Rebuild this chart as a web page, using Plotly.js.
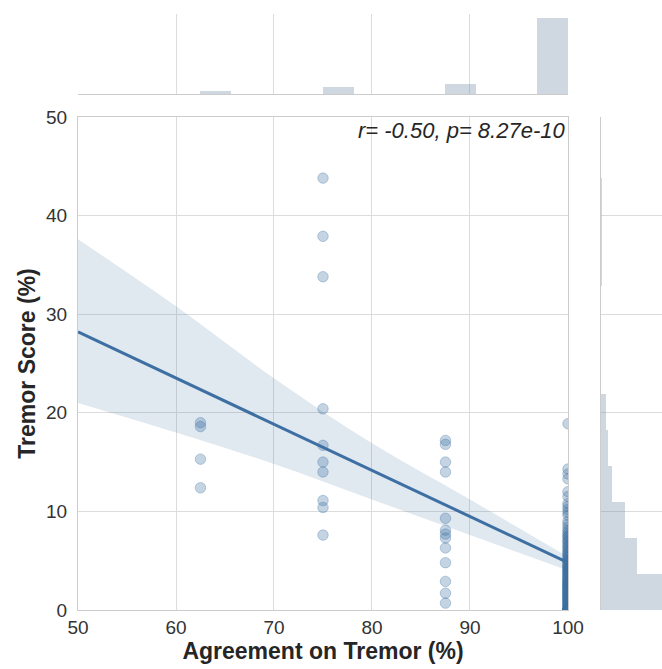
<!DOCTYPE html>
<html>
<head>
<meta charset="utf-8">
<script src="https://cdn.plot.ly/plotly-3.0.1.min.js"></script>
<style>html,body{margin:0;padding:0;background:#fff;}#chart{width:662px;height:669px;}</style>
</head>
<body>
<div id="chart"></div>
<script>
// ---- data ----
const agreementLevels = [62.5, 75, 87.5, 100];
const scores62 = [19.0, 18.6, 15.3, 12.4];
const scores75 = [43.8, 37.9, 33.8, 20.4, 16.7, 15.0, 14.0, 11.1, 10.4, 7.6];
const scores87 = [17.2, 16.8, 15.0, 14.0, 9.3, 8.1, 7.7, 7.3, 6.3, 4.8, 2.9, 1.7, 0.7];
const scores100 = [
  18.9,
  14.3, 13.8, 13.3, 12.0, 11.5,
  10.8, 10.5, 10.2, 9.9, 9.6, 9.0, 8.7, 8.4, 8.1, 7.9, 7.7, 7.5, 7.4,
  7.2, 7.0, 6.9, 6.7, 6.5, 6.4, 6.2, 6.0, 5.9, 5.7, 5.6, 5.4, 5.3, 5.1, 5.0,
  4.9, 4.8, 4.6, 4.5, 4.4, 4.3, 4.2, 4.1, 4.0, 3.9, 3.8, 3.7,
  3.6, 3.5, 3.4, 3.3, 3.1, 3.0, 2.9, 2.8, 2.7, 2.6,
  2.5, 2.4, 2.3, 2.2, 2.1, 2.0, 1.9, 1.8, 1.7, 1.6,
  1.5, 1.4, 1.3, 1.2, 1.1, 1.0, 0.9, 0.8, 0.7, 0.6,
  0.5, 0.4, 0.3, 0.2, 0.1, 3.2, 2.8, 2.4, 2.0, 1.6,
  1.2, 0.8, 0.4,
  0, 0, 0, 0, 0, 0, 0, 0, 0, 0, 0, 0, 0, 0, 0
];
const fitX = [50, 100];
const fitY = [28.2, 4.8];
const bandX = [50, 60, 70, 80, 90, 100];
const bandUpper = [37.6, 30.8, 23.5, 16.9, 11.2, 5.4];
const bandLower = [21.0, 18.0, 14.8, 11.2, 7.6, 4.0];
const statsText = 'r= -0.50, p= 8.27e-10';
const xTitle = 'Agreement on Tremor (%)';
const yTitle = 'Tremor Score (%)';
const xTicks = [50, 60, 70, 80, 90, 100];
const yTicks = [0, 10, 20, 30, 40, 50];

// ---- build ----
const groups = [scores62, scores75, scores87, scores100];
const xs = [], ys = [];
groups.forEach((g, i) => g.forEach(v => { xs.push(agreementLevels[i]); ys.push(v); }));

function histogram(values, lo, hi, n) {
  const w = (hi - lo) / n;
  const counts = new Array(n).fill(0);
  values.forEach(v => {
    let k = Math.floor((v - lo) / w + 1e-9);
    if (k >= n) k = n - 1;
    if (k >= 0) counts[k]++;
  });
  const centers = counts.map((_, k) => lo + w * (k + 0.5));
  return {counts, centers, w};
}
const hx = histogram(xs, Math.min(...xs), Math.max(...xs), 12);
const hy = histogram(ys, Math.min(...ys), Math.max(...ys), 12);

const blue = '#3d6fa2';
const font = 'Liberation Sans, Arial, sans-serif';
const grid = '#dcdcdc';
const spine = '#cccccc';
const barFill = 'rgba(110,135,160,0.33)';

const traces = [
  {type: 'scatter', mode: 'markers', x: xs, y: ys, xaxis: 'x', yaxis: 'y',
   marker: {size: 10.5, color: 'rgba(61,111,162,0.30)', line: {color: 'rgba(61,111,162,0.32)', width: 1}},
   hoverinfo: 'skip'},
  {type: 'scatter', mode: 'lines', x: bandX, y: bandLower, xaxis: 'x', yaxis: 'y',
   line: {width: 0, shape: 'spline'}, hoverinfo: 'skip'},
  {type: 'scatter', mode: 'lines', x: bandX, y: bandUpper, xaxis: 'x', yaxis: 'y',
   line: {width: 0, shape: 'spline'}, fill: 'tonexty', fillcolor: 'rgba(61,111,162,0.16)', hoverinfo: 'skip'},
  {type: 'scatter', mode: 'lines', x: fitX, y: fitY, xaxis: 'x', yaxis: 'y',
   line: {color: blue, width: 3}, hoverinfo: 'skip'},
  {type: 'bar', x: hx.centers, y: hx.counts, width: hx.w, xaxis: 'x2', yaxis: 'y2',
   marker: {color: barFill, line: {width: 0}}, hoverinfo: 'skip'},
  {type: 'bar', orientation: 'h', y: hy.centers, x: hy.counts, width: hy.w, xaxis: 'x3', yaxis: 'y3',
   marker: {color: barFill, line: {width: 0}}, hoverinfo: 'skip'}
];

const tickFont = {family: font, size: 19, color: '#333333'};
const titleFont = {family: font, size: 23, color: '#262626', weight: 'bold'};

const layout = {
  width: 662, height: 669,
  margin: {l: 78, r: 0, t: 14, b: 59, pad: 0},
  paper_bgcolor: '#ffffff', plot_bgcolor: '#ffffff',
  showlegend: false, bargap: 0,
  xaxis: {domain: [0, 0.839], anchor: 'y', range: [50, 100], tickvals: xTicks,
    showgrid: true, gridcolor: grid, gridwidth: 1, zeroline: false,
    showline: true, mirror: true, linecolor: spine, linewidth: 1, ticks: '',
    tickfont: tickFont, title: {text: xTitle, font: titleFont, standoff: 6}},
  yaxis: {domain: [0, 0.8272], anchor: 'x', range: [0, 50], tickvals: yTicks,
    showgrid: true, gridcolor: grid, gridwidth: 1, zeroline: false,
    showline: true, mirror: true, linecolor: spine, linewidth: 1, ticks: '',
    ticklabelstandoff: 6,
    tickfont: tickFont, title: {text: yTitle, font: titleFont, standoff: 3}},
  xaxis2: {domain: [0, 0.839], anchor: 'y2', matches: 'x', tickvals: xTicks,
    showticklabels: false, showgrid: true, gridcolor: grid, zeroline: false,
    showline: true, linecolor: spine, ticks: ''},
  yaxis2: {domain: [0.8658, 1], anchor: 'x2', range: [0, Math.max(...hx.counts) * 1.05],
    showticklabels: false, showgrid: false, zeroline: false, showline: false, ticks: ''},
  xaxis3: {domain: [0.8955, 1], anchor: 'y3', range: [0, 49],
    showticklabels: false, showgrid: false, zeroline: false, showline: false, ticks: ''},
  yaxis3: {domain: [0, 0.8272], anchor: 'x3', matches: 'y', tickvals: yTicks,
    showticklabels: false, showgrid: true, gridcolor: grid, zeroline: false,
    showline: true, linecolor: spine, ticks: ''},
  annotations: [{xref: 'x domain', yref: 'y domain', x: 0.997, y: 0.972,
    xanchor: 'right', yanchor: 'middle', showarrow: false,
    text: '<i>' + statsText + '</i>', font: {family: font, size: 22, color: '#262626'}}]
};

Plotly.newPlot('chart', traces, layout, {displayModeBar: false, staticPlot: true});
</script>
</body>
</html>
